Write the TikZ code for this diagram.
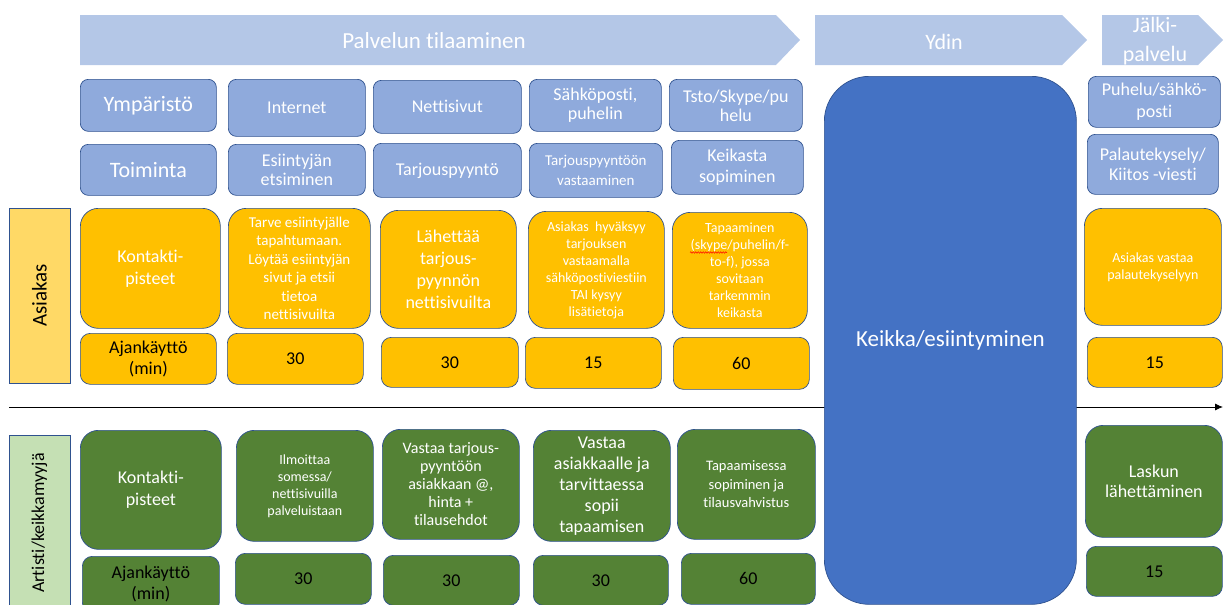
\documentclass[tikz,border=0pt]{standalone}
\usepackage{fontspec}
\setmainfont{Carlito}[Ligatures={NoCommon,NoRare}]
\usetikzlibrary{arrows.meta,decorations.pathmorphing}
\definecolor{bannerc}{HTML}{B4C7E7}
\definecolor{bluec}{HTML}{8FAADC}
\definecolor{edgec}{HTML}{2F528F}
\definecolor{orangec}{HTML}{FFC000}
\definecolor{greenc}{HTML}{548235}
\definecolor{coreblue}{HTML}{4472C4}
\definecolor{ylab}{HTML}{FFD966}
\definecolor{glab}{HTML}{C5E0B4}
\tikzset{
  fs/.style 2 args={font=\fontsize{#1}{#2}\selectfont},
  basebox/.style={draw=edgec, line width=0.7pt, inner sep=0pt, align=center},
  bbox/.style={basebox, fill=bluec, text=white, rounded corners=8pt},
  obig/.style={basebox, fill=orangec, text=white, rounded corners=18pt},
  osmall/.style={basebox, fill=orangec, text=black, rounded corners=10pt},
  gbig/.style={basebox, fill=greenc, text=white, rounded corners=18pt},
  gsmall/.style={basebox, fill=greenc, text=black, rounded corners=10pt},
  bannertext/.style={text=white, align=center},
}
\newcommand\mybox[7]{%
  \pgfmathsetmacro\bw{#5-#3}\pgfmathsetmacro\bh{#6-#4}%
  \node[#2, anchor=north west, minimum width=\bw pt, minimum height=\bh pt] (#1) at (#3,#4) {#7};}
\begin{document}
\begin{tikzpicture}[x=1pt,y=-1pt]
\useasboundingbox (0,0) rectangle (1224,605);
% banners
\fill[bannerc] (80,15) -- (776,15) -- (800,40) -- (776,65) -- (80,65) -- cycle;
\fill[bannerc] (815,15) -- (1062,15) -- (1087,40) -- (1062,65) -- (815,65) -- cycle;
\fill[bannerc] (1102,15) -- (1198,15) -- (1223,40) -- (1198,65) -- (1102,65) -- cycle;
\node[bannertext, fs={23}{27}] (b1) at (434,41) {Palvelun tilaaminen};
\node[bannertext, fs={22}{26}] (b2) at (944,42) {Ydin};
\node[bannertext, fs={22}{29}] (b3) at (1155,41) {Jälki-\\palvelu};
% timeline arrow
\coordinate (tl0) at (9,407);
\coordinate (tl1) at (1223,407);
\draw[line width=0.9pt, -{Latex[length=8pt,width=7pt]}] (tl0) -- (tl1);
% core box
\mybox{core}{basebox, fill=coreblue, text=white, rounded corners=45pt, fs={23}{27}}{824}{76}{1076}{604}{Keikka/esiintyminen}
% lane labels
\node[basebox, fill=ylab, text=black, fs={21}{25}, rotate=90, minimum width=175pt, minimum height=61pt] (lasiakas) at (39.5,295.5) {Asiakas};
\node[basebox, fill=glab, text=black, fs={18}{21}, rotate=90, minimum width=176pt, minimum height=61pt] (lartisti) at (39.5,523) {Artisti/keikkamyyjä};
% row 1
\mybox{ymp}{bbox, fs={22}{26}}{80}{79}{216}{131}{Ympäristö}
\mybox{int}{bbox, fs={18}{21}}{228}{79}{365}{136}{\raisebox{-2pt}{Internet}}
\mybox{net}{bbox, fs={18}{21}}{373}{80}{521}{133}{Nettisivut}
\mybox{sah}{bbox, fs={18}{19}}{529}{79}{661}{131}{Sähköposti,\\puhelin}
\mybox{tsto}{bbox, fs={18}{19}}{669}{79}{802}{131}{Tsto/Skype/pu\\helu}
\mybox{puh}{bbox, fs={18}{21.5}}{1088}{76}{1220}{127}{Puhelu/sähkö-\\posti}
% row 2
\mybox{toi}{bbox, fs={22}{26}}{80}{144}{216}{195}{Toiminta}
\mybox{esi}{bbox, fs={18}{19.5}}{228}{144}{365}{195}{Esiintyjän\\etsiminen}
\mybox{tar}{bbox, fs={18}{21}}{373}{143}{521}{197}{Tarjouspyyntö}
\mybox{tarv}{bbox, fs={15}{20}}{529}{143}{662}{197}{Tarjouspyyntöön\\vastaaminen}
\mybox{kei}{bbox, fs={18}{21.5}}{671}{140}{803}{194}{Keikasta\\sopiminen}
\mybox{pal}{bbox, fs={18}{20}}{1087}{134}{1218}{194}{Palautekysely/\\Kiitos -viesti}
% row 3 (asiakas)
\mybox{ak}{obig, fs={18}{21.7}}{80}{208}{220}{328}{Kontakti-\\pisteet}
\mybox{a1}{obig, fs={15}{18.5}}{228}{208}{370}{328}{Tarve esiintyjälle\\tapahtumaan.\\Löytää esiintyjän\\sivut ja etsii\\tietoa\\nettisivuilta}
\mybox{a2}{obig, fs={18}{21.7}}{380}{210}{516}{328}{Lähettää\\tarjous-\\pyynnön\\nettisivuilta}
\mybox{a3}{obig, fs={14}{17}}{528}{211}{664}{328}{Asiakas\ \ hyväksyy\\tarjouksen\\vastaamalla\\sähköpostiviestiin\\TAI kysyy\\lisätietoja}
\mybox{a4}{obig, fs={14}{17}}{672}{212}{807}{328}{Tapaaminen\\(skype/puhelin/f-\\to-f), jossa\\sovitaan\\tarkemmin\\keikasta}
\mybox{a5}{obig, fs={14}{17}}{1084}{208}{1221}{325}{Asiakas vastaa\\palautekyselyyn}
% spell-check squiggle under "skype"
\coordinate (sq0) at (690,252.5);
\coordinate (sq1) at (727,252.5);
\draw[red, line width=0.5pt, decorate, decoration={snake, amplitude=0.8pt, segment length=2.5pt}] (sq0) -- (sq1);
% row 4
\mybox{at}{osmall, fs={18}{21.7}}{80}{333}{216}{384}{Ajankäyttö\\(min)}
\mybox{t1}{osmall, fs={18}{21}}{227}{333}{363}{384}{30}
\mybox{t2}{osmall, fs={18}{21}}{381}{337}{518}{387}{30}
\mybox{t3}{osmall, fs={18}{21}}{525}{337}{661}{388}{15}
\mybox{t4}{osmall, fs={18}{21}}{673}{337}{809}{389}{60}
\mybox{t5}{osmall, fs={18}{21}}{1087}{337}{1222}{387}{15}
% row 5 (artisti)
\mybox{gk}{gbig, fs={18}{21.7}}{80}{430}{221}{549}{Kontakti-\\pisteet}
\mybox{g1}{gbig, fs={14}{17}}{236}{430}{373}{541}{Ilmoittaa\\somessa/\\nettisivuilla\\palveluistaan}
\mybox{g2}{gbig, fs={16}{18}}{382}{429}{519}{539}{Vastaa tarjous-\\pyyntöön\\asiakkaan @,\\hinta +\\tilausehdot}
\mybox{g3}{gbig, fs={18}{21}}{533}{430}{670}{541}{Vastaa\\asiakkaalle ja\\tarvittaessa\\sopii\\tapaamisen}
\mybox{g4}{gbig, fs={14.5}{18.5}}{677}{429}{815}{539}{Tapaamisessa\\sopiminen ja\\tilausvahvistus}
\mybox{g5}{gbig, fs={18}{20}}{1085}{425}{1222}{537}{Laskun\\lähettäminen}
% row 6
\mybox{gt}{gsmall, fs={18}{21}}{82}{556}{219}{612}{Ajankäyttö\\(min)}
\mybox{u1}{gsmall, fs={18}{21}}{235}{553}{371}{604}{30}
\mybox{u2}{gsmall, fs={18}{21}}{383}{555}{519}{605}{30}
\mybox{u3}{gsmall, fs={18}{21}}{533}{555}{668}{605}{30}
\mybox{u4}{gsmall, fs={18}{21}}{681}{553}{815}{604}{60}
\mybox{u5}{gsmall, fs={18}{21}}{1086}{546}{1222}{596}{15}
\end{tikzpicture}
\end{document}
